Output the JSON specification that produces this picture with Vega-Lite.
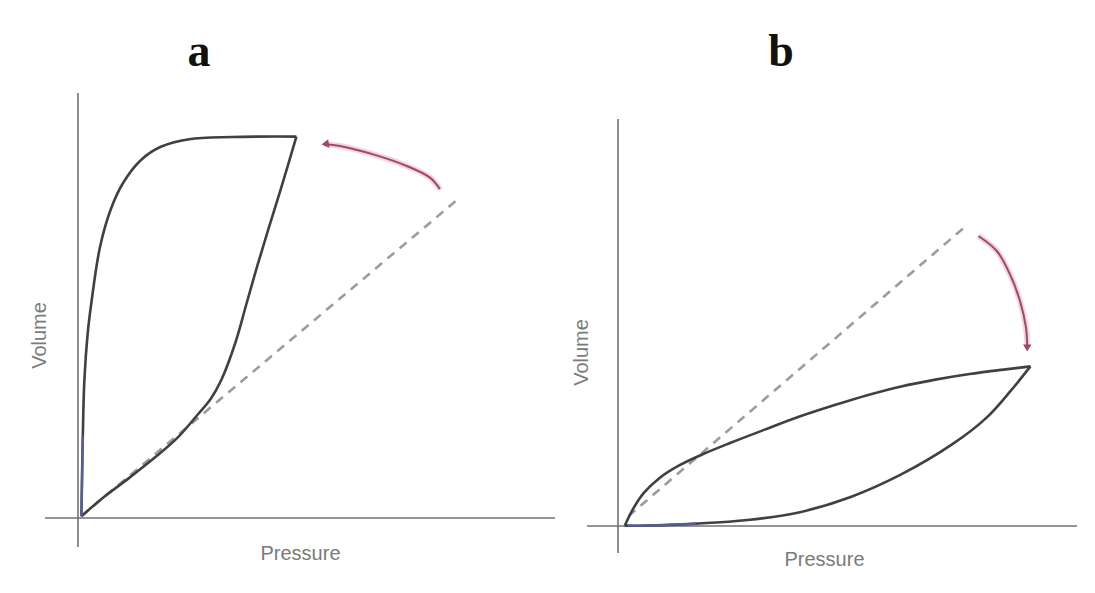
{
  "$schema": "https://vega.github.io/schema/vega-lite/v6.json",
  "background": "white",
  "autosize": {"type": "pad"},
  "padding": {"left": 29, "top": 29, "right": 5, "bottom": 5},
  "spacing": 24,
  "bounds": "flush",
  "config": {
    "view": {"stroke": null},
    "axis": {"domain": false, "ticks": false, "labels": false, "grid": false, "titleFont": "Liberation Sans", "titleFontSize": 20, "titleFontWeight": "normal", "titleColor": "#7a7a7a", "titleAlign": "center", "titleBaseline": "middle"},
    "title": {"font": "Liberation Serif", "fontSize": 46, "fontWeight": "bold", "color": "#111111", "anchor": "middle", "baseline": "alphabetic"}
  },
  "datasets": {
    "a": [
      {"part": "xaxis", "i": 0, "P": -8.25, "P2": 119.25, "V": 0, "V2": 0},
      {"part": "yaxis", "i": 0, "P": 0, "P2": 0, "V": -7.25, "V2": 106.25},
      {"part": "insp", "i": 0, "P": 0.85, "V": 0.45},
      {"part": "insp", "i": 1, "P": 1.2, "V": 20.4},
      {"part": "insp", "i": 2, "P": 1.6, "V": 34.6},
      {"part": "insp", "i": 3, "P": 2.4, "V": 45.9},
      {"part": "insp", "i": 4, "P": 3.3, "V": 53.5},
      {"part": "insp", "i": 5, "P": 5.5, "V": 67.75},
      {"part": "insp", "i": 6, "P": 8.2, "V": 77.2},
      {"part": "insp", "i": 7, "P": 11.3, "V": 83.8},
      {"part": "insp", "i": 8, "P": 15.75, "V": 89.5},
      {"part": "insp", "i": 9, "P": 20.7, "V": 92.8},
      {"part": "insp", "i": 10, "P": 27.8, "V": 94.7},
      {"part": "insp", "i": 11, "P": 38.5, "V": 95.25},
      {"part": "insp", "i": 12, "P": 54.6, "V": 95.35},
      {"part": "exp", "i": 0, "P": 54.6, "V": 95.35},
      {"part": "exp", "i": 1, "P": 50.6, "V": 81.9},
      {"part": "exp", "i": 2, "P": 47.65, "V": 72.4},
      {"part": "exp", "i": 3, "P": 44.8, "V": 62.95},
      {"part": "exp", "i": 4, "P": 42.1, "V": 53.5},
      {"part": "exp", "i": 5, "P": 39.4, "V": 44.0},
      {"part": "exp", "i": 6, "P": 35.85, "V": 34.55},
      {"part": "exp", "i": 7, "P": 33.2, "V": 29.8},
      {"part": "exp", "i": 8, "P": 30.05, "V": 26.0},
      {"part": "exp", "i": 9, "P": 25.15, "V": 20.35},
      {"part": "exp", "i": 10, "P": 19.8, "V": 15.6},
      {"part": "exp", "i": 11, "P": 12.65, "V": 9.9},
      {"part": "exp", "i": 12, "P": 6.4, "V": 5.2},
      {"part": "exp", "i": 13, "P": 0.85, "V": 0.45},
      {"part": "blue", "i": 0, "P": 0.85, "V": 0.45},
      {"part": "blue", "i": 1, "P": 1.2, "V": 20.4},
      {"part": "dash", "i": 0, "P": 0.85, "V": 0.45},
      {"part": "dash", "i": 1, "P": 94.75, "V": 79.5},
      {"part": "arrow", "i": 0, "P": 90.5, "V": 82.2},
      {"part": "arrow", "i": 1, "P": 88, "V": 85.1},
      {"part": "arrow", "i": 2, "P": 82.2, "V": 88},
      {"part": "arrow", "i": 3, "P": 73.8, "V": 90.9},
      {"part": "arrow", "i": 4, "P": 65.5, "V": 93},
      {"part": "arrow", "i": 5, "P": 61.5, "V": 93.5},
      {"part": "head", "i": 0, "P": 61.8, "V": 93.5}
    ],
    "b": [
      {"part": "xaxis", "i": 0, "P": -7.75, "P2": 114.75, "V": 0, "V2": 0},
      {"part": "yaxis", "i": 0, "P": 0, "P2": 0, "V": -6.75, "V2": 101.75},
      {"part": "insp", "i": 0, "P": 1.7, "V": 0.1},
      {"part": "insp", "i": 1, "P": 3.85, "V": 4.4},
      {"part": "insp", "i": 2, "P": 6.4, "V": 8.2},
      {"part": "insp", "i": 3, "P": 10.25, "V": 11.9},
      {"part": "insp", "i": 4, "P": 15.4, "V": 15.2},
      {"part": "insp", "i": 5, "P": 21.3, "V": 18.0},
      {"part": "insp", "i": 6, "P": 28.15, "V": 20.8},
      {"part": "insp", "i": 7, "P": 36.7, "V": 24.1},
      {"part": "insp", "i": 8, "P": 45.2, "V": 27.3},
      {"part": "insp", "i": 9, "P": 53.75, "V": 30.1},
      {"part": "insp", "i": 10, "P": 62.3, "V": 32.7},
      {"part": "insp", "i": 11, "P": 70.8, "V": 34.9},
      {"part": "insp", "i": 12, "P": 79.35, "V": 36.6},
      {"part": "insp", "i": 13, "P": 87.9, "V": 38.0},
      {"part": "insp", "i": 14, "P": 96.4, "V": 39.1},
      {"part": "insp", "i": 15, "P": 103.1, "V": 39.9},
      {"part": "exp", "i": 0, "P": 103.1, "V": 39.9},
      {"part": "exp", "i": 1, "P": 98.1, "V": 33.7},
      {"part": "exp", "i": 2, "P": 92.15, "V": 27.1},
      {"part": "exp", "i": 3, "P": 83.6, "V": 20.45},
      {"part": "exp", "i": 4, "P": 70.8, "V": 12.9},
      {"part": "exp", "i": 5, "P": 58.0, "V": 7.2},
      {"part": "exp", "i": 6, "P": 45.2, "V": 3.4},
      {"part": "exp", "i": 7, "P": 32.4, "V": 1.5},
      {"part": "exp", "i": 8, "P": 19.6, "V": 0.6},
      {"part": "exp", "i": 9, "P": 6.8, "V": 0.1},
      {"part": "exp", "i": 10, "P": 1.7, "V": 0.1},
      {"part": "blue", "i": 0, "P": 2.5, "V": 0.1},
      {"part": "blue", "i": 1, "P": 6.8, "V": 0.1},
      {"part": "blue", "i": 2, "P": 19.6, "V": 0.6},
      {"part": "dash", "i": 0, "P": 2.6, "V": 2.45},
      {"part": "dash", "i": 1, "P": 87.45, "V": 75.4},
      {"part": "arrow", "i": 0, "P": 90.1, "V": 72.5},
      {"part": "arrow", "i": 1, "P": 94.7, "V": 68.75},
      {"part": "arrow", "i": 2, "P": 98, "V": 62.9},
      {"part": "arrow", "i": 3, "P": 100.5, "V": 56.25},
      {"part": "arrow", "i": 4, "P": 102, "V": 49.6},
      {"part": "arrow", "i": 5, "P": 102.3, "V": 45},
      {"part": "head", "i": 0, "P": 102.3, "V": 44.5}
    ]
  },
  "hconcat": [
    {
      "title": {"text": "a", "dx": -101, "offset": 14},
      "width": 516,
      "height": 460,
      "data": {"name": "a"},
      "encoding": {
        "x": {"field": "P", "type": "quantitative", "scale": {"domain": [-9, 120], "nice": false, "zero": false}, "axis": {"title": "Pressure", "titleX": 258, "titleY": 3}},
        "y": {"field": "V", "type": "quantitative", "scale": {"domain": [-8, 107], "nice": false, "zero": false}, "axis": {"title": "Volume", "titleX": -3, "titleY": 245, "titleAngle": -90}}
      },
      "layer": [
        {"transform": [{"filter": "datum.part === 'xaxis' || datum.part === 'yaxis'"}], "mark": {"type": "rule", "color": "#707074", "strokeWidth": 1.6}, "encoding": {"x2": {"field": "P2"}, "y2": {"field": "V2"}}},
        {"transform": [{"filter": "datum.part === 'dash'"}], "mark": {"type": "line", "color": "#9c9c9c", "strokeWidth": 2.6, "strokeDash": [9, 7]}, "encoding": {"order": {"field": "i"}}},
        {"transform": [{"filter": "datum.part === 'insp' || datum.part === 'exp'"}], "mark": {"type": "line", "interpolate": "catmull-rom", "color": "#3f3f46", "strokeWidth": 2.6}, "encoding": {"detail": {"field": "part"}, "order": {"field": "i"}}},
        {"transform": [{"filter": "datum.part === 'blue'"}], "mark": {"type": "line", "interpolate": "catmull-rom", "color": "#5c64a6", "strokeWidth": 2.4, "opacity": 0.85}, "encoding": {"order": {"field": "i"}}},
        {"transform": [{"filter": "datum.part === 'arrow'"}], "mark": {"type": "line", "interpolate": "catmull-rom", "color": "#f4c9d6", "strokeWidth": 6, "opacity": 0.8}, "encoding": {"order": {"field": "i"}}},
        {"transform": [{"filter": "datum.part === 'arrow'"}], "mark": {"type": "line", "interpolate": "catmull-rom", "color": "#9c4a66", "strokeWidth": 2}, "encoding": {"order": {"field": "i"}}},
        {"transform": [{"filter": "datum.part === 'head'"}], "mark": {"type": "point", "shape": "triangle-left", "filled": true, "color": "#9c4a66", "size": 70, "angle": -8, "opacity": 1}}
      ]
    },
    {
      "title": {"text": "b", "dx": -51, "offset": 14},
      "width": 500,
      "height": 468,
      "data": {"name": "b"},
      "encoding": {
        "x": {"field": "P", "type": "quantitative", "scale": {"domain": [-9, 116], "nice": false, "zero": false}, "axis": {"title": "Pressure", "titleX": 242, "titleY": 1}},
        "y": {"field": "V", "type": "quantitative", "scale": {"domain": [-8, 109], "nice": false, "zero": false}, "axis": {"title": "Volume", "titleX": -1, "titleY": 262, "titleAngle": -90}}
      },
      "layer": [
        {"transform": [{"filter": "datum.part === 'xaxis' || datum.part === 'yaxis'"}], "mark": {"type": "rule", "color": "#707074", "strokeWidth": 1.6}, "encoding": {"x2": {"field": "P2"}, "y2": {"field": "V2"}}},
        {"transform": [{"filter": "datum.part === 'dash'"}], "mark": {"type": "line", "color": "#9c9c9c", "strokeWidth": 2.6, "strokeDash": [9, 7]}, "encoding": {"order": {"field": "i"}}},
        {"transform": [{"filter": "datum.part === 'insp' || datum.part === 'exp'"}], "mark": {"type": "line", "interpolate": "catmull-rom", "color": "#3f3f46", "strokeWidth": 2.6}, "encoding": {"detail": {"field": "part"}, "order": {"field": "i"}}},
        {"transform": [{"filter": "datum.part === 'blue'"}], "mark": {"type": "line", "interpolate": "catmull-rom", "color": "#5c64a6", "strokeWidth": 2.4, "opacity": 0.85}, "encoding": {"order": {"field": "i"}}},
        {"transform": [{"filter": "datum.part === 'arrow'"}], "mark": {"type": "line", "interpolate": "catmull-rom", "color": "#f4c9d6", "strokeWidth": 6, "opacity": 0.8}, "encoding": {"order": {"field": "i"}}},
        {"transform": [{"filter": "datum.part === 'arrow'"}], "mark": {"type": "line", "interpolate": "catmull-rom", "color": "#9c4a66", "strokeWidth": 2}, "encoding": {"order": {"field": "i"}}},
        {"transform": [{"filter": "datum.part === 'head'"}], "mark": {"type": "point", "shape": "triangle-down", "filled": true, "color": "#9c4a66", "size": 70, "opacity": 1}}
      ]
    }
  ]
}
